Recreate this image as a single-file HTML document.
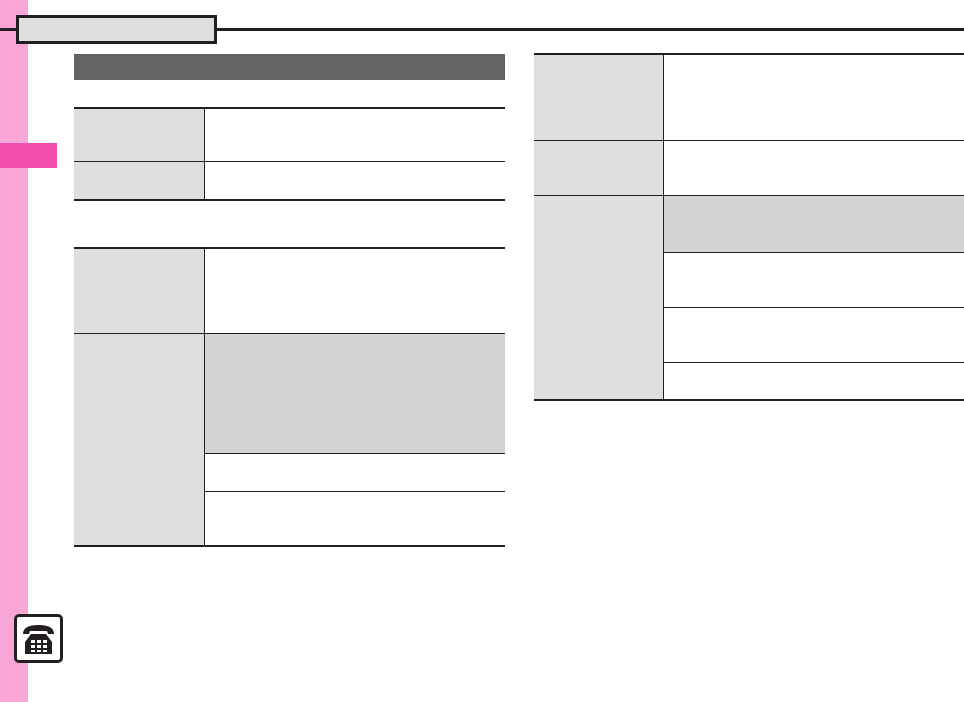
<!DOCTYPE html><html><head><style>
body{margin:0;width:964px;height:702px;position:relative;background:#fff;overflow:hidden}
div{position:absolute;box-sizing:border-box}
.lb{background:#dedede}.g{background:#d4d4d4}
.hl{height:2px;background:#231f20}.tl{height:1px;background:#231f20}
.vl{width:1px;background:#231f20}
</style></head><body>
<div style="left:0;top:0;width:28px;height:702px;background:#f7a6d6"></div>
<div style="left:0;top:143px;width:57px;height:25px;background:#f24eb0"></div>
<div style="left:0;top:28px;width:964px;height:3px;background:#231f20"></div>
<div style="left:16px;top:15px;width:201px;height:29px;background:#dedede;border:3px solid #231f20"></div>
<div style="left:74px;top:54px;width:431px;height:26px;background:#646263"></div>
<!-- table1 -->
<div class="lb" style="left:74px;top:108px;width:130px;height:92px"></div>
<div class="hl" style="left:74px;top:107px;width:431px"></div>
<div class="tl" style="left:74px;top:161px;width:431px"></div>
<div class="hl" style="left:74px;top:199px;width:431px"></div>
<div class="vl" style="left:204px;top:107px;height:93px"></div>
<!-- table2 -->
<div class="lb" style="left:74px;top:248px;width:130px;height:298px"></div>
<div class="g" style="left:205px;top:334px;width:300px;height:119px"></div>
<div class="hl" style="left:74px;top:247px;width:431px"></div>
<div class="tl" style="left:74px;top:333px;width:431px"></div>
<div class="tl" style="left:205px;top:453px;width:300px"></div>
<div class="tl" style="left:205px;top:491px;width:300px"></div>
<div class="hl" style="left:74px;top:545px;width:431px"></div>
<div class="vl" style="left:204px;top:247px;height:299px"></div>
<!-- right -->
<div class="lb" style="left:534px;top:54px;width:129px;height:346px"></div>
<div class="g" style="left:664px;top:196px;width:300px;height:56px"></div>
<div class="hl" style="left:534px;top:53px;width:430px"></div>
<div class="tl" style="left:534px;top:140px;width:430px"></div>
<div class="tl" style="left:534px;top:195px;width:430px"></div>
<div class="tl" style="left:664px;top:252px;width:300px"></div>
<div class="tl" style="left:664px;top:307px;width:300px"></div>
<div class="tl" style="left:664px;top:362px;width:300px"></div>
<div class="hl" style="left:534px;top:399px;width:430px"></div>
<div class="vl" style="left:663px;top:53px;height:347px"></div>
<!-- phone icon -->
<div style="left:14px;top:614px;width:49px;height:49px;background:#fff;border:3px solid #231f20;border-radius:5px"></div>
<svg style="position:absolute;left:14px;top:614px" width="49" height="49" viewBox="0 0 49 49">
<path d="M9 20 Q9 11 24.5 11 Q40 11 40 20 L34 20 L33 17 L16 17 L15 20 Z" fill="#231f20"/>
<path d="M17 20 L32 20 L38 28 L38 40 L11 40 L11 28 Z" fill="#231f20"/>
<g fill="#fff"><rect x="17" y="26" width="4" height="3"/><rect x="23" y="26" width="4" height="3"/><rect x="29" y="26" width="4" height="3"/>
<rect x="17" y="31" width="4" height="3"/><rect x="23" y="31" width="4" height="3"/><rect x="29" y="31" width="4" height="3"/>
<rect x="17" y="36" width="4" height="2"/><rect x="23" y="36" width="4" height="2"/><rect x="29" y="36" width="4" height="2"/></g>
</svg>
</body></html>
